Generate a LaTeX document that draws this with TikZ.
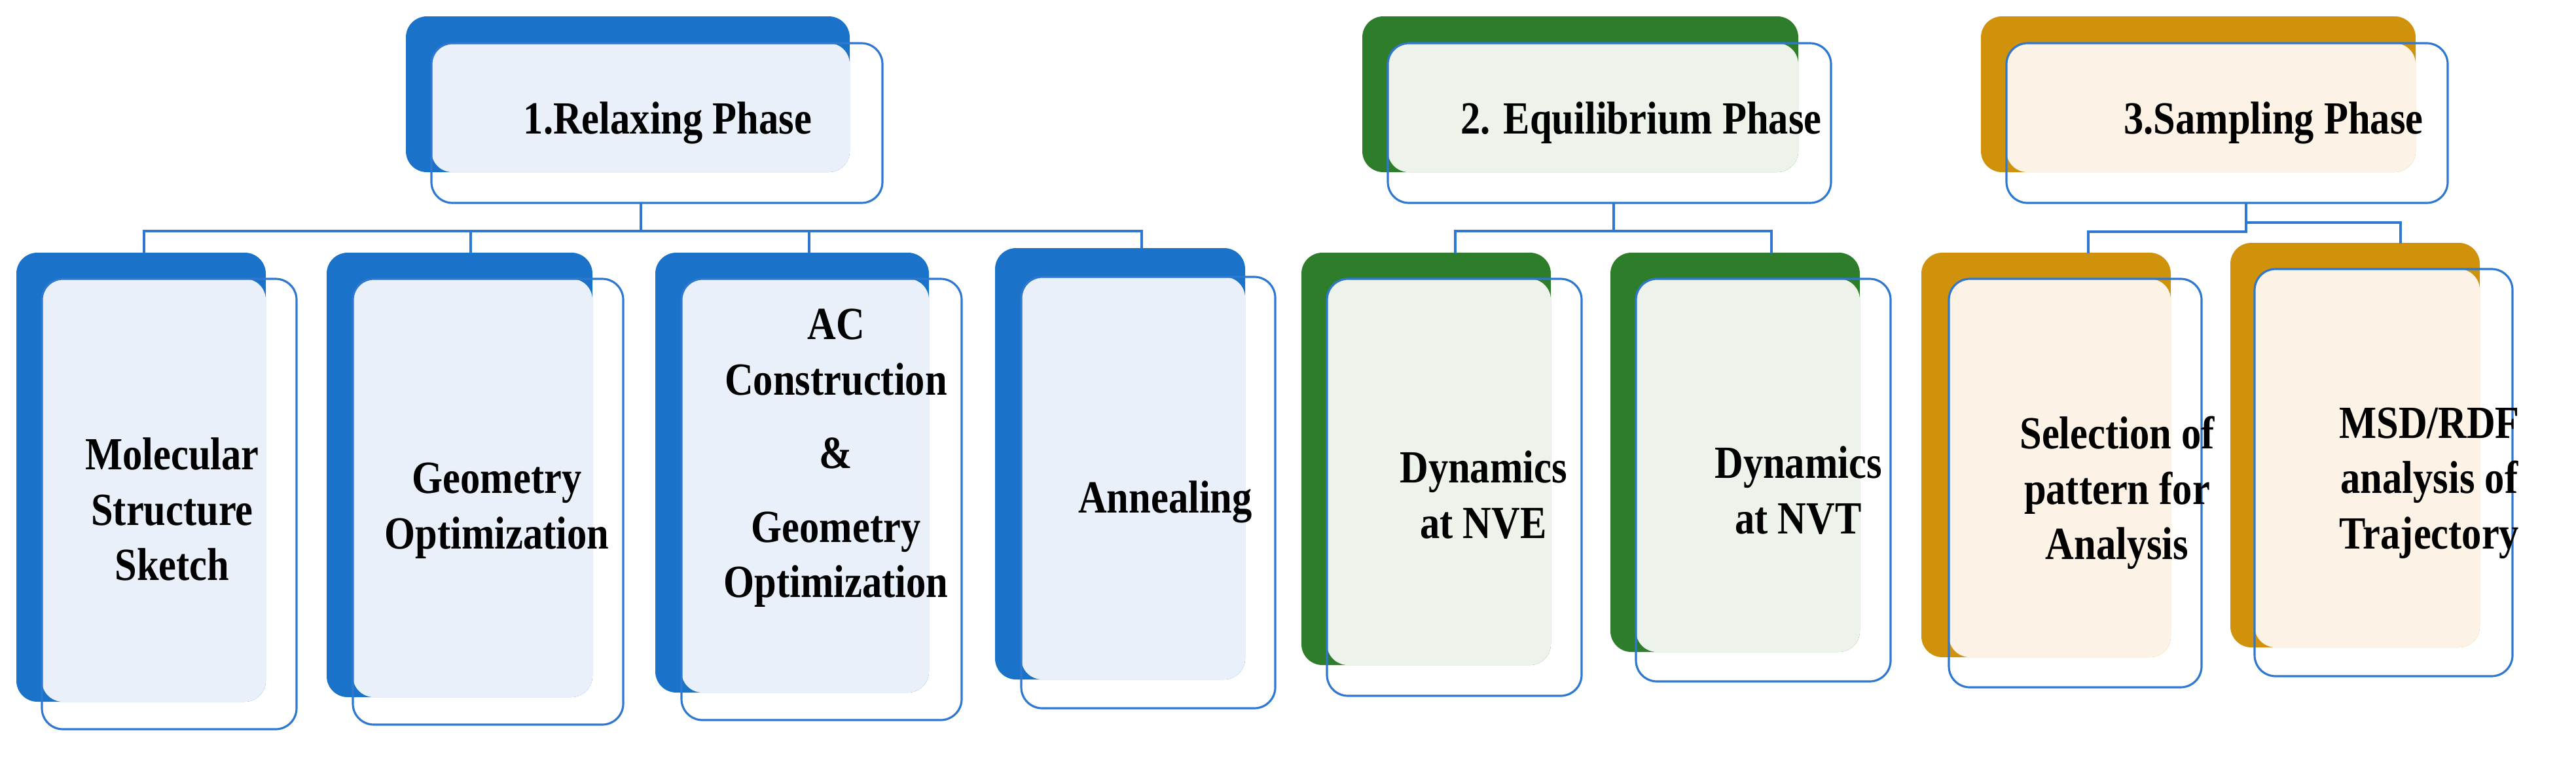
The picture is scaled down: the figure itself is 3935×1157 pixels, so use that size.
\documentclass[tikz,border=0pt]{standalone}
\usepackage{fontspec}
\setmainfont{Liberation Serif}[BoldFeatures={FakeStretch=0.86}]
\definecolor{bl}{HTML}{1A73C9}
\definecolor{gr}{HTML}{2E7D2A}
\definecolor{go}{HTML}{D0920A}
\definecolor{lbl}{HTML}{EAF0FA}
\definecolor{lgr}{HTML}{EDF2EB}
\definecolor{lgo}{HTML}{FCF3E6}
\definecolor{edge}{HTML}{2E78D2}
\tikzset{
  txt/.style={font=\bfseries\fontsize{20}{24}\selectfont, align=center, text=black},
  conn/.style={draw=edge, line width=0.9pt},
  frontbox/.style={draw=edge, line width=0.9pt, rounded corners=0.32cm},
}
\newcommand\mycard[9]{%
  \fill[#9, rounded corners=0.32cm] (#1,#2) rectangle (#3,#4);
  \fill[l#9, rounded corners=0.32cm] (#5,#6) rectangle (#3,#4);
  \draw[frontbox] (#5,#6) rectangle (#7,#8);
}
\begin{document}
\begin{tikzpicture}[x=0.01cm,y=-0.01cm]
\useasboundingbox (0,0) rectangle (3935,1157);
\mycard{620}{25}{1298}{263}{659}{66}{1348}{310}{bl}
\mycard{2081}{25}{2747}{263}{2120}{66}{2797}{310}{gr}
\mycard{3026}{25}{3690}{263}{3065}{66}{3739}{310}{go}
\mycard{25}{386}{406}{1072}{64}{426}{453}{1114}{bl}
\mycard{499}{386}{905}{1065}{539}{426}{952}{1107}{bl}
\mycard{1001}{386}{1419}{1058}{1041}{426}{1469}{1100}{bl}
\mycard{1520}{379}{1902}{1038}{1560}{423}{1948}{1082}{bl}
\mycard{1988}{386}{2369}{1016}{2027}{426}{2416}{1063}{gr}
\mycard{2460}{386}{2841}{996}{2499}{426}{2888}{1041}{gr}
\mycard{2935}{386}{3316}{1004}{2977}{426}{3363}{1050}{go}
\mycard{3407}{371}{3788}{989}{3444}{411}{3838}{1033}{go}
\node[txt] (h1) at (1020,188) {1.Relaxing Phase};
\node[txt] (h2) at (2507,188) {2. Equilibrium Phase};
\node[txt] (h3) at (3473,188) {3.Sampling Phase};
\node[txt] (c1) at (263,778) {Molecular\\Structure\\Sketch};
\node[txt] (c2) at (759,780) {Geometry\\Optimization};
\node[txt] (c3) at (1277,700) {AC\\Construction\\[8pt]\&\\[8pt]Geometry\\Optimization};
\node[txt] (c4) at (1780,767) {Annealing};
\node[txt] (e1) at (2266,756) {Dynamics\\at NVE};
\node[txt] (e2) at (2747,749) {Dynamics\\at NVT};
\node[txt] (s1) at (3234,753) {Selection of\\pattern for\\Analysis};
\node[txt] (s2) at (3711,738) {MSD/RDF\\analysis of\\Trajectory};
\coordinate (j1) at (979,310); \coordinate (k1) at (979,353);
\coordinate (t1) at (220,387); \coordinate (t2) at (719,387);
\coordinate (t3) at (1236,387); \coordinate (t4) at (1744,380);
\coordinate (j2) at (2465,310); \coordinate (k2) at (2465,353);
\coordinate (u1) at (2223,387); \coordinate (u2) at (2706,387);
\coordinate (j3) at (3431,310); \coordinate (k3) at (3431,354);
\coordinate (v1) at (3190,387); \coordinate (v2) at (3667,372);
\draw[conn] (j1) -- (k1);
\draw[conn] (t1) |- (k1) -| (t4);
\draw[conn] (k1) -| (t2);
\draw[conn] (k1) -| (t3);
\draw[conn] (j2) -- (k2);
\draw[conn] (u1) |- (k2) -| (u2);
\draw[conn] (j3) -- (k3) -| (v1);
\draw[conn] (k3) ++(0,-14) -| (v2);
\end{tikzpicture}
\end{document}
